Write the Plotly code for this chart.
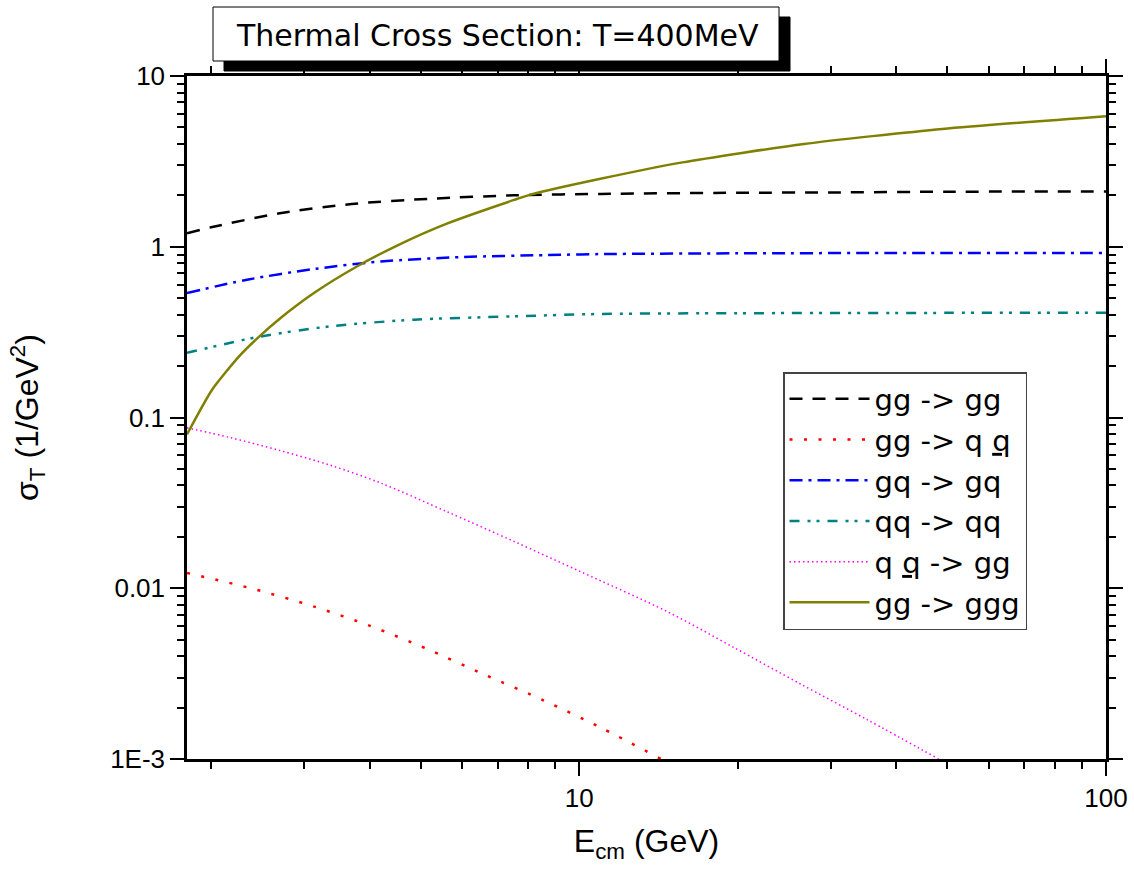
import math
import plotly.graph_objects as go

# ---------------- data ----------------
E_gg_gg = [1.8, 2.0, 2.7, 3.7, 5.2, 7.5, 11, 20, 30, 50, 100]
S_gg_gg = [1.20, 1.30, 1.57, 1.78, 1.91, 2.00, 2.04, 2.07, 2.08, 2.10, 2.11]

E_gg_qqbar = [1.8, 2.41, 3.14, 4.02, 5.15, 6.64, 8.57, 10.97, 14.3]
S_gg_qqbar = [0.0123, 0.0099, 0.0078, 0.0060, 0.0044, 0.0031, 0.0022, 0.00153, 0.0010]

E_gq_gq = [1.8, 2.34, 3.14, 4.2, 6.04, 8.69, 11, 20, 50, 100]
S_gq_gq = [0.536, 0.641, 0.741, 0.82, 0.871, 0.894, 0.906, 0.915, 0.92, 0.92]

E_qq_qq = [1.8, 2.45, 3.37, 4.86, 7.52, 11, 20, 50, 100]
S_qq_qq = [0.239, 0.296, 0.342, 0.374, 0.391, 0.404, 0.408, 0.41, 0.41]

E_qqbar_gg = [1.8, 2.18, 2.71, 3.37, 4.2, 5.62, 7.52, 10.06, 14.69, 19.65, 26.3, 35.2, 48.1]
S_qqbar_gg = [0.087, 0.0761, 0.0639, 0.0525, 0.0413, 0.0280, 0.0188, 0.0125, 0.0073,
              0.0045, 0.00275, 0.0017, 0.0010]

E_gg_ggg = [1.8, 2.01, 2.26, 2.45, 2.71, 3.14, 3.79, 4.52, 5.62, 7.52, 8.08, 10.97,
            15.7, 26.7, 48.9, 100]
S_gg_ggg = [0.0796, 0.146, 0.228, 0.292, 0.383, 0.538, 0.769, 1.02, 1.37, 1.88, 2.02, 2.50,
            3.12, 4.0, 4.9, 5.82]

series_names = ["gg -> gg", "gg -> q <u>q</u>", "gq -> gq", "qq -> qq",
                "q <u>q</u> -> gg", "gg -> ggg"]

x_tick_vals = [10, 100]
x_tick_text = ["10", "100"]
y_tick_vals = [0.001, 0.01, 0.1, 1, 10]
y_tick_text = ["1E-3", "0.01", "0.1", "1", "10"]

title_text = "Thermal Cross Section: T=400MeV"

# ---------------- layout geometry ----------------
W, H = 1134, 875
L, R, T, B = 187, 28, 76, 116
PW, PH = W - L - R, H - T - B


def px_x(px):
    return (px - L) / PW


def px_y(py):
    return (H - B - py) / PH


FONT = "Liberation Sans, Arial, sans-serif"
WIDE = "DejaVu Sans, Liberation Sans, sans-serif"

styles = [
    dict(color="#000000", dash="13px,10px", width=2.5),
    dict(color="#ff0000", dash="3px,11.5px", width=2.5),
    dict(color="#0000ff", dash="13px,6px,3px,6px", width=2.5),
    dict(color="#008080", dash="10px,8px,3px,6px,3px,8px", width=2.5),
    dict(color="#ff00ff", dash="1.5px,3px", width=1.5),
    dict(color="#808000", dash="solid", width=2.5),
]
smooth = [0.8, 0.8, 0.8, 0.8, 0.9, 0.6]

data = [
    (E_gg_gg, S_gg_gg),
    (E_gg_qqbar, S_gg_qqbar),
    (E_gq_gq, S_gq_gq),
    (E_qq_qq, S_qq_qq),
    (E_qqbar_gg, S_qqbar_gg),
    (E_gg_ggg, S_gg_ggg),
]

fig = go.Figure()
for (ex, sy), name, st, sm in zip(data, series_names, styles, smooth):
    line = dict(st, shape="spline", smoothing=sm)
    fig.add_trace(go.Scatter(x=ex, y=sy, mode="lines", name=name, line=line))

x_minor = [m * 10 ** k for k in range(0, 2) for m in range(2, 10)]
y_minor = [m * 10 ** k for k in range(-3, 1) for m in range(2, 10)]

axis_common = dict(
    type="log",
    showline=True, linewidth=2.5, linecolor="black", mirror="ticks",
    ticks="outside", ticklen=14, tickwidth=2, tickcolor="black",
    showgrid=False, zeroline=False,
    tickfont=dict(family=FONT, size=26, color="black"),
)

fig.update_layout(
    width=W, height=H,
    margin=dict(l=L, r=R, t=T, b=B, autoexpand=False),
    paper_bgcolor="white", plot_bgcolor="white",
    font=dict(family=FONT, color="black"),
    showlegend=True,
    legend=dict(
        x=px_x(783), y=px_y(372), xanchor="left", yanchor="top",
        bgcolor="white", bordercolor="#444444", borderwidth=1.5,
        font=dict(family=WIDE, size=29, color="black"),
        itemwidth=80,
    ),
    xaxis=dict(
        **axis_common,
        range=[math.log10(1.8), 2],
        tickmode="array", tickvals=x_tick_vals, ticktext=x_tick_text,
        minor=dict(tickmode="array", tickvals=x_minor, ticks="outside", ticklen=7,
                   tickwidth=2, tickcolor="black", showgrid=False),
        title=dict(text="E<sub>cm</sub> (GeV)", font=dict(family=FONT, size=32, color="black"),
                   standoff=18),
    ),
    yaxis=dict(
        **axis_common,
        range=[-3, 1],
        tickmode="array", tickvals=y_tick_vals, ticktext=y_tick_text,
        minor=dict(tickmode="array", tickvals=y_minor, ticks="outside", ticklen=7,
                   tickwidth=2, tickcolor="black", showgrid=False),
        title=dict(text="σ<sub>T</sub> (1/GeV<sup>2</sup>)",
                   font=dict(family=FONT, size=32, color="black"), standoff=62),
    ),
    shapes=[
        dict(type="rect", xref="paper", yref="paper",
             x0=px_x(224), x1=px_x(790), y0=px_y(71), y1=px_y(17),
             fillcolor="black", line=dict(color="black", width=1), layer="above"),
        dict(type="rect", xref="paper", yref="paper",
             x0=px_x(213), x1=px_x(779), y0=px_y(61), y1=px_y(7),
             fillcolor="white", line=dict(color="black", width=1), layer="above"),
    ],
    annotations=[
        dict(text=title_text, xref="paper", yref="paper",
             x=px_x(497), y=px_y(35), xanchor="center", yanchor="middle",
             showarrow=False, font=dict(family=WIDE, size=30, color="black")),
    ],
)

fig.write_html("out.html")
